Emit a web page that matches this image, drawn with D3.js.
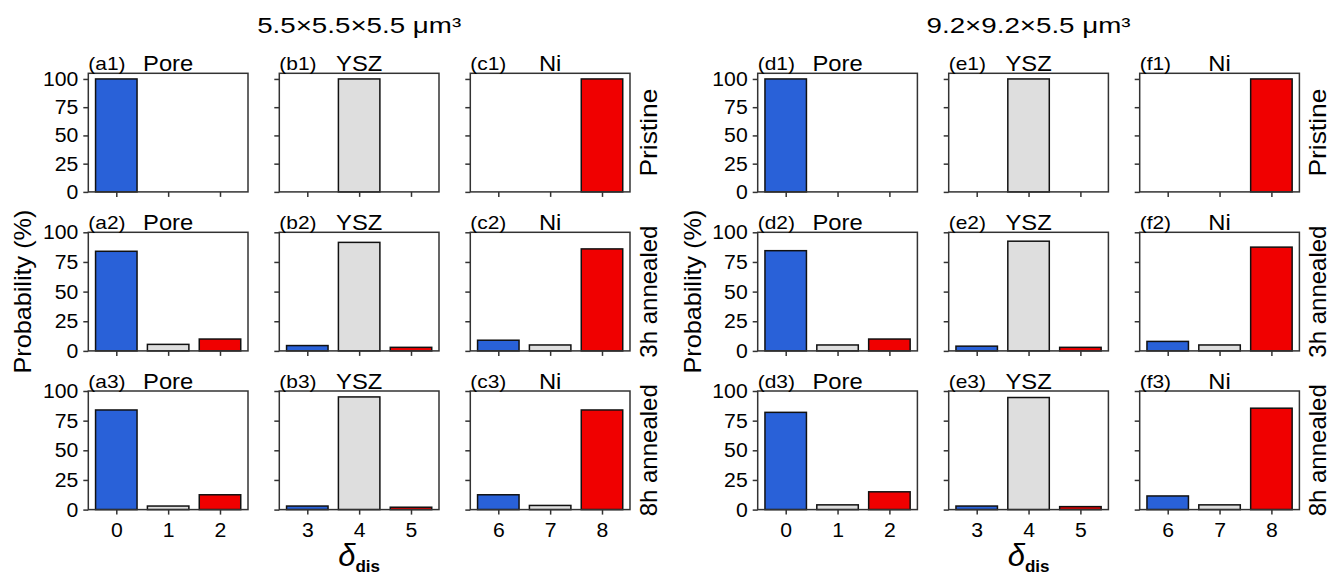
<!DOCTYPE html>
<html>
<head>
<meta charset="utf-8">
<script src="https://cdn.jsdelivr.net/npm/d3@7"></script>
<style>
  body { margin: 0; background: #fff; }
  text { font-family: "Liberation Sans", Arial, sans-serif; fill: #000; }
</style>
</head>
<body>
<script>
// volumes (one group of 3x3 panels each)
const volumes = ['5.5×5.5×5.5 μm³', '9.2×9.2×5.5 μm³'];
const letters = [['a', 'b', 'c'], ['d', 'e', 'f']];
const phases = ['Pore', 'YSZ', 'Ni'];
const states = ['Pristine', '3h annealed', '8h annealed'];
const deltaTicks = [[0, 1, 2], [3, 4, 5], [6, 7, 8]];
const barColors = ['#2961d8', '#dedede', '#f00000'];

// probability (%) per phase panel, bars in tick order
const pristine = [[100, 0, 0], [0, 100, 0], [0, 0, 100]];
const annealed3hSmall = [[84, 5.5, 10], [4.5, 91.5, 3], [9, 5, 86]];
const annealed8hSmall = [[84, 3, 12.5], [3, 95, 2], [12.5, 3.5, 84]];
const annealed3hLarge = [[84.5, 5, 10], [4, 92.5, 3], [8, 5, 87.5]];
const annealed8hLarge = [[82, 4, 15], [3, 94.5, 2.5], [11.5, 4, 85.5]];
const yTicks = [0, 25, 50, 75, 100];

const groupData = [
  [pristine, annealed3hSmall, annealed8hSmall],
  [pristine, annealed3hLarge, annealed8hLarge]
];

const groupLeft = [88.3, 757.7];
const colStep = 191;
const panelW = 159.7;
const panelH = 118.6;
const rowTop = [73.3, 232.3, 391];
const frameColor = '#333';

const svg = d3.select('body').append('svg')
  .attr('width', 1331)
  .attr('height', 576);

// widen glyphs a little, the source font runs wide
function stretch(sel, k) {
  sel.each(function () {
    const w = this.getComputedTextLength();
    d3.select(this).attr('textLength', w * k).attr('lengthAdjust', 'spacingAndGlyphs');
  });
}

groupData.forEach((rows, g) => {
  const left = groupLeft[g];
  const right = left + 2 * colStep + panelW;

  svg.append('text')
    .attr('x', (left + right) / 2)
    .attr('y', 33)
    .attr('text-anchor', 'middle')
    .style('font-size', '22px')
    .attr('textLength', 204)
    .attr('lengthAdjust', 'spacingAndGlyphs')
    .text(volumes[g]);

  // y label
  svg.append('text')
    .attr('transform', `translate(${left - 57},${(rowTop[1] + panelH / 2)}) rotate(-90)`)
    .attr('text-anchor', 'middle')
    .style('font-size', '24px')
    .text('Probability (%)')
    .call(stretch, 1.05);

  // x label
  const dl = svg.append('text')
    .attr('x', left + colStep + panelW / 2)
    .attr('y', 566)
    .attr('text-anchor', 'middle');
  dl.append('tspan')
    .style('font-size', '31px')
    .style('font-style', 'italic')
    .text('δ');
  dl.append('tspan')
    .attr('dy', 6)
    .style('font-size', '17px')
    .style('font-weight', 'bold')
    .text('dis');

  rows.forEach((panels, r) => {
    // row label
    svg.append('text')
      .attr('transform', `translate(${right + 27},${rowTop[r] + panelH / 2}) rotate(-90)`)
      .attr('text-anchor', 'middle')
      .style('font-size', '24px')
      .text(states[r])
      .call(stretch, r === 0 ? 1.1 : 1.0);

    panels.forEach((vals, c) => {
      const ticks = deltaTicks[c];
      const x = d3.scaleLinear()
        .domain([ticks[0] - 0.54, ticks[2] + 0.54])
        .range([0, panelW]);
      const y = d3.scaleLinear()
        .domain([0, r === 0 ? 105 : 100])
        .range([panelH, 0]);

      const p = svg.append('g')
        .attr('transform', `translate(${left + c * colStep},${rowTop[r]})`);

      p.selectAll('rect.bar')
        .data(vals)
        .join('rect')
        .attr('class', 'bar')
        .attr('x', (d, i) => x(ticks[i] - 0.4))
        .attr('width', (d, i) => x(ticks[i] + 0.4) - x(ticks[i] - 0.4))
        .attr('y', (d) => y(d))
        .attr('height', (d) => y(0) - y(d))
        .attr('fill', (d, i) => barColors[i])
        .attr('stroke', '#111')
        .attr('stroke-width', 1.5);

      const ya = p.append('g')
        .call(d3.axisLeft(y).tickValues(yTicks).tickSize(5).tickPadding(5)
          .tickFormat(c === 0 ? d3.format('d') : () => ''));
      const xa = p.append('g')
        .attr('transform', `translate(0,${panelH})`)
        .call(d3.axisBottom(x).tickValues(ticks).tickSize(5).tickPadding(8)
          .tickFormat(r === 2 ? d3.format('d') : () => ''));

      [ya, xa].forEach((a) => {
        a.select('.domain').remove();
        a.selectAll('line').attr('stroke', frameColor).attr('stroke-width', 1.5);
        a.selectAll('text')
          .style('font-size', '20px')
          .attr('fill', '#000')
          .style('font-family', '"Liberation Sans", Arial, sans-serif')
          .call(stretch, 1.06);
      });

      p.append('rect')
        .attr('width', panelW)
        .attr('height', panelH)
        .attr('fill', 'none')
        .attr('stroke', frameColor)
        .attr('stroke-width', 1.5);

      p.append('text')
        .attr('x', 0)
        .attr('y', -3)
        .style('font-size', '19px')
        .text(`(${letters[g][c]}${r + 1})`)
        .call(stretch, 1.1);

      p.append('text')
        .attr('x', panelW / 2)
        .attr('y', -2)
        .attr('text-anchor', 'middle')
        .style('font-size', '22px')
        .text(phases[c])
        .call(stretch, 1.08);
    });
  });
});
</script>
</body>
</html>
